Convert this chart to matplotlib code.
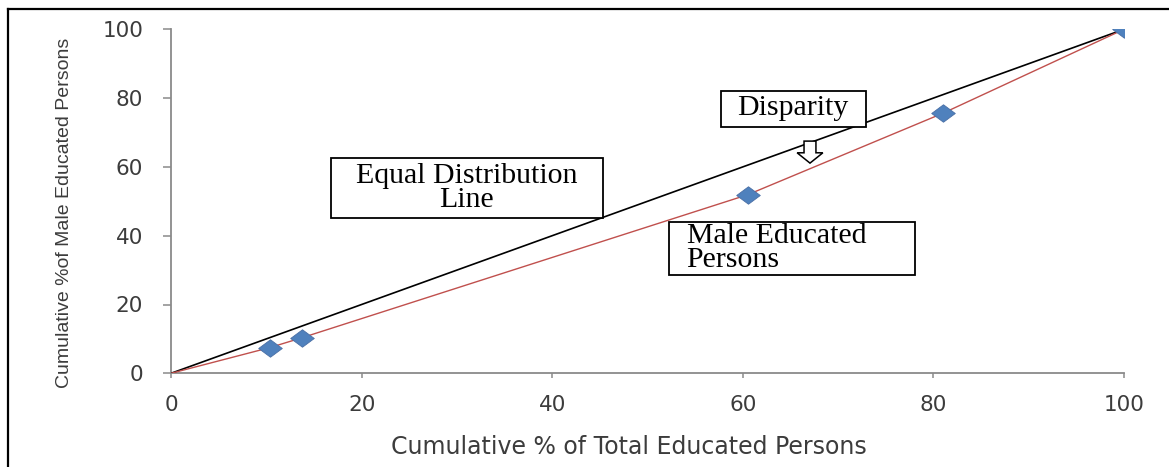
import matplotlib
matplotlib.use("Agg")
import matplotlib.pyplot as plt
from matplotlib.patches import Rectangle, FancyArrow
from matplotlib.lines import Line2D

# Cumulative shares (Lorenz-type curve for male educated persons)
total_pct = [0, 10.4, 13.7, 60.5, 81.0, 100]
male_pct = [0, 7.5, 10.3, 51.9, 75.6, 100]
equal_x = [0, 100]
equal_y = [0, 100]
ticks = [0, 20, 40, 60, 80, 100]

W, H = 1169, 467
fig = plt.figure(figsize=(W / 100, H / 100), dpi=100)
fig.patch.set_facecolor("white")

x0, x1, yb, yt = 171, 1124, 373.3, 29.3
ax = fig.add_axes([x0 / W, 1 - yb / H, (x1 - x0) / W, (yb - yt) / H])
ax.set_xlim(0, 100)
ax.set_ylim(0, 100)

spine_col = "#8a8a8a"
for side in ("top", "right"):
    ax.spines[side].set_visible(False)
for side in ("left", "bottom"):
    ax.spines[side].set_color(spine_col)
    ax.spines[side].set_linewidth(1.3)

ax.set_xticks(ticks)
ax.set_yticks(ticks)
ax.tick_params(axis="both", colors=spine_col, labelcolor="#3c3c3c",
               labelsize=15.5, width=1.1)
ax.tick_params(axis="y", length=6, pad=14)
ax.tick_params(axis="x", length=3.5, pad=12)
for lab in ax.get_xticklabels() + ax.get_yticklabels():
    lab.set_family("DejaVu Sans")

# Equal distribution diagonal
ax.plot(equal_x, equal_y, color="black", lw=1.2, zorder=3)

# Male educated persons curve with diamond markers
diamond = [(-1.35, 0), (0, 1), (1.35, 0), (0, -1), (-1.35, 0)]
ax.plot(total_pct, male_pct, color="#c0504d", lw=1.0, zorder=3)
ax.plot(total_pct[1:], male_pct[1:], linestyle="none", marker=diamond,
        markersize=17, markerfacecolor="#4f81bd", markeredgecolor="#4a6fa5",
        markeredgewidth=0.6, zorder=4)

ax.set_xlabel("Cumulative % of Total Educated Persons", fontsize=17,
              color="#3c3c3c", family="DejaVu Sans")
ax.xaxis.set_label_coords((629 - x0) / (x1 - x0), -(435 - yb) / (yb - yt))
ax.set_ylabel("Cumulative %of Male Educated Persons", fontsize=14,
              color="#3c3c3c", family="Liberation Sans")
ax.yaxis.set_label_coords(-(x0 - 73) / (x1 - x0), (yb - 213) / (yb - yt))

serif = ["Liberation Serif", "DejaVu Serif"]


def text_box(bx0, bx1, by0, by1):
    ax.add_patch(Rectangle((bx0, by0), bx1 - bx0, by1 - by0, facecolor="white",
                           edgecolor="black", lw=1.3, zorder=5))


# Annotation boxes
text_box(16.8, 45.3, 45.1, 62.7)
ax.text(31.05, 54.0, "Equal Distribution\nLine", ha="center", va="center",
        fontsize=21.5, family=serif, linespacing=0.9, zorder=6)

text_box(57.7, 72.9, 71.7, 82.2)
ax.text(65.3, 77.0, "Disparity", ha="center", va="center",
        fontsize=21.5, family=serif, zorder=6)

text_box(52.3, 78.1, 28.6, 44.1)
ax.text(54.1, 36.4, "Male Educated\nPersons", ha="left", va="center",
        fontsize=21.5, family=serif, linespacing=0.9, zorder=6)

# Hollow block arrow pointing at the gap between the two lines
ax.add_patch(FancyArrow(67.05, 67.5, 0, -6.4, width=1.25, head_width=2.7,
                        head_length=3.0, length_includes_head=True,
                        facecolor="white", edgecolor="black", lw=1.1, zorder=6))

# Outer frame (left and top edges)
fig.add_artist(Line2D([7.5 / W, 7.5 / W], [0, 1 - 9 / H], color="black",
                      lw=1.6, transform=fig.transFigure))
fig.add_artist(Line2D([7.5 / W, 1], [1 - 9 / H, 1 - 9 / H], color="black",
                      lw=1.6, transform=fig.transFigure))

fig.savefig("out.png", dpi=100, facecolor="white")
